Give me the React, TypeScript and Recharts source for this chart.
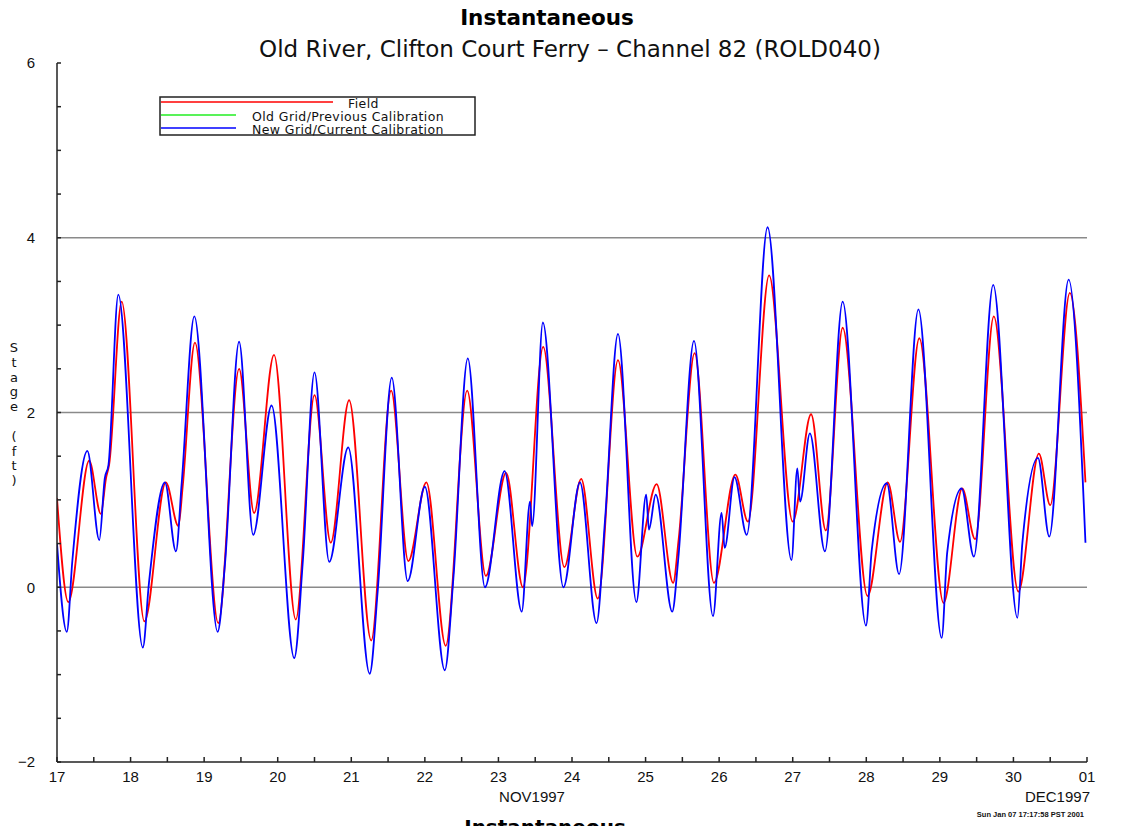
import React from 'react';
import { LineChart, Line, XAxis, YAxis, ReferenceLine, Legend } from 'recharts';

// hours since 17 Nov 1997 00:00
const fieldHours = [0, 3.7, 10.5, 14.3, 16, 17, 21.1, 28.5, 35.5, 39.6, 41, 45, 52.6, 59.4, 64.3, 70.8, 77.9, 84, 89.3, 95.3, 102.5, 109, 114.6, 120.5, 126.8, 133.8, 139.9, 146.5, 152, 158.6, 165.5, 171, 176.4, 183, 189.3, 195.6, 201, 202.8, 208, 214.3, 221.3, 225.4, 232.3, 240, 246, 250.8, 256.3, 264.4, 271, 275, 281.3, 289.2, 295.3, 299.5, 305.6, 313.6, 320.3, 324, 330.4, 335.5];
const fieldStage = [1.02, -0.17, 1.45, 0.84, 1.25, 1.4, 3.27, -0.39, 1.2, 0.7, 1.15, 2.8, -0.41, 2.5, 0.85, 2.66, -0.37, 2.2, 0.51, 2.14, -0.61, 2.25, 0.3, 1.2, -0.67, 2.25, 0.13, 1.31, 0.0, 2.75, 0.23, 1.24, -0.13, 2.6, 0.35, 1.18, 0.05, 0.55, 2.68, 0.05, 1.29, 0.75, 3.57, 0.75, 1.98, 0.65, 2.97, -0.1, 1.2, 0.52, 2.85, -0.18, 1.13, 0.55, 3.1, -0.05, 1.53, 0.94, 3.37, 1.2];

const newGridHours = [0, 3.2, 5.0, 9.9, 13.8, 15.6, 16.8, 20, 28, 30, 35.2, 38.8, 40.7, 44.8, 52.4, 54.8, 59.4, 64, 70, 77.4, 80.2, 84, 88.8, 95, 102, 104.6, 109.2, 114.4, 120, 126.5, 129.3, 134, 139.6, 146, 151.6, 154.3, 155, 158.5, 165.2, 170.6, 176, 178.8, 183, 189, 192.2, 193.1, 195.3, 200.7, 202.6, 207.8, 214, 216.8, 217.8, 221, 225, 231.8, 239.6, 241.5, 242.4, 245.6, 250.5, 256.3, 263.9, 265.8, 270.7, 274.7, 281, 288.6, 290.4, 295.1, 299.1, 305.4, 313.3, 314.9, 320, 323.7, 330, 335.5];
const newGridStage = [0.5, -0.51, 0.3, 1.56, 0.54, 1.25, 1.4, 3.35, -0.69, 0.05, 1.2, 0.41, 1.2, 3.1, -0.51, 0.27, 2.81, 0.6, 2.08, -0.81, 0.3, 2.46, 0.29, 1.6, -0.99, -0.05, 2.4, 0.07, 1.15, -0.95, 0.1, 2.62, 0.0, 1.33, -0.28, 0.98, 0.7, 3.03, 0.0, 1.2, -0.41, 0.78, 2.9, -0.17, 1.06, 0.66, 1.06, -0.28, 0.3, 2.82, -0.33, 0.85, 0.45, 1.26, 0.6, 4.12, 0.31, 1.36, 0.98, 1.76, 0.41, 3.27, -0.44, 0.43, 1.19, 0.15, 3.18, -0.58, 0.4, 1.13, 0.35, 3.46, -0.35, 0.5, 1.48, 0.58, 3.52, 0.51];

const dayLabels = ['17', '18', '19', '20', '21', '22', '23', '24', '25', '26', '27', '28', '29', '30', '01'];
const xTicks = [0, 12, 24, 36, 48, 60, 72, 84, 96, 108, 120, 132, 144, 156, 168, 180, 192, 204, 216, 228, 240, 252, 264, 276, 288, 300, 312, 324, 336];
const yTicks = [-2, -1.5, -1, -0.5, 0, 0.5, 1, 1.5, 2, 2.5, 3, 3.5, 4, 4.5, 5, 5.5, 6];
const yLabelValues = [-2, 0, 2, 4, 6];
const gridValues = [0, 2, 4];

const seriesNames = ['Field', 'Old Grid/Previous Calibration', 'New Grid/Current Calibration'];
const seriesColors = ['#ff0000', '#22ee22', '#0000ff'];

const fieldData = fieldHours.map((t, i) => ({ t, v: fieldStage[i] }));
const newGridData = newGridHours.map((t, i) => ({ t, v: newGridStage[i] }));

const FONT = '"Liberation Sans", Arial, sans-serif';
const WIDE = '"DejaVu Sans", Verdana, sans-serif';

const LegendBox = () => (
  <svg width={318} height={41} style={{ display: 'block', overflow: 'visible' }}>
    <rect x={1} y={1} width={315} height={38} fill="#fff" stroke="#222" strokeWidth={1.5} />
    <line x1={2} y1={6} x2={174} y2={6} stroke={seriesColors[0]} strokeWidth={1.5} />
    <line x1={2} y1={19} x2={77} y2={19} stroke={seriesColors[1]} strokeWidth={1.5} />
    <line x1={2} y1={32} x2={77} y2={32} stroke={seriesColors[2]} strokeWidth={1.5} />
    <text x={189} y={12} fontSize={12.5} letterSpacing={0.4} fontFamily={WIDE} fill="#111">{seriesNames[0]}</text>
    <text x={93} y={25} fontSize={12.5} letterSpacing={0.4} fontFamily={WIDE} fill="#111">{seriesNames[1]}</text>
    <text x={93} y={38} fontSize={12.5} letterSpacing={0.4} fontFamily={WIDE} fill="#111">{seriesNames[2]}</text>
  </svg>
);

const yLabelChars = ['S', 't', 'a', 'g', 'e', '\u00a0', '(', 'f', 't', ')'];

export default function App() {
  return (
    <div style={{ position: 'absolute', left: 0, top: 0, width: 1126, height: 826, overflow: 'hidden', background: '#fff', fontFamily: FONT }}>
      <div style={{ position: 'absolute', left: 0, top: 0 }}>
        <LineChart width={1126} height={826} margin={{ top: 63, right: 39, bottom: 24, left: 0 }}>
          <XAxis
            dataKey="t"
            type="number"
            domain={[0, 336]}
            ticks={xTicks}
            allowDataOverflow
            tickFormatter={(t: number) => (t % 24 === 0 ? dayLabels[t / 24] : '')}
            height={40}
            tickSize={-5}
            tickMargin={14}
            interval={0}
            stroke="#222"
            strokeWidth={1.5}
            tick={{ fill: '#111', fontSize: 15, fontFamily: FONT }}
          />
          <XAxis xAxisId="top" orientation="top" type="number" domain={[0, 336]} height={0} tick={false} tickLine={false} stroke="#222" strokeWidth={1.5} />
          <YAxis
            type="number"
            domain={[-2, 6]}
            ticks={yTicks}
            allowDataOverflow
            interval={0}
            width={57}
            tickSize={-4}
            tickMargin={26}
            tickFormatter={(v: number) => (yLabelValues.includes(v) ? (v < 0 ? '\u2212' + Math.abs(v) : String(v)) : '')}
            stroke="#222"
            strokeWidth={1.5}
            tick={{ fill: '#111', fontSize: 15, fontFamily: FONT }}
          />
          <YAxis yAxisId="right" orientation="right" domain={[-2, 6]} width={0} tick={false} tickLine={false} stroke="#222" strokeWidth={1.5} />
          {gridValues.map((g) => (
            <ReferenceLine key={g} y={g} stroke="#8a8a8a" strokeWidth={1.3} ifOverflow="extendDomain" />
          ))}
          <Line data={fieldData} dataKey="v" name={seriesNames[0]} type="monotone" stroke={seriesColors[0]} strokeWidth={1.8} dot={false} isAnimationActive={false} />
          <Line data={newGridData} dataKey="v" name={seriesNames[2]} type="monotone" stroke={seriesColors[2]} strokeWidth={1.8} dot={false} isAnimationActive={false} />
          <Legend
            layout="horizontal"
            verticalAlign="middle"
            align="center"
            content={() => <LegendBox />}
            wrapperStyle={{ position: 'absolute', left: 159, top: 96, width: 318, height: 41 }}
          />
        </LineChart>
      </div>
      <div style={{ position: 'absolute', left: 547, top: 5, transform: 'translateX(-50%)', fontFamily: WIDE, fontSize: 21.5, fontWeight: 'bold', color: '#000', whiteSpace: 'nowrap' }}>Instantaneous</div>
      <div style={{ position: 'absolute', left: 570, top: 36, transform: 'translateX(-50%)', fontFamily: WIDE, fontSize: 23, color: '#111', whiteSpace: 'nowrap' }}>
        Old River, Clifton Court Ferry – Channel 82 (ROLD040)
      </div>
      <div style={{ position: 'absolute', left: 7, top: 341, width: 14, textAlign: 'center', fontFamily: WIDE, fontSize: 13, lineHeight: '14.8px', color: '#111' }}>
        {yLabelChars.map((c, i) => (
          <div key={i}>{c}</div>
        ))}
      </div>
      <div style={{ position: 'absolute', left: 532, top: 788, transform: 'translateX(-50%)', fontSize: 15, color: '#111', whiteSpace: 'nowrap' }}>NOV1997</div>
      <div style={{ position: 'absolute', right: 36, top: 788, fontSize: 15, color: '#111', whiteSpace: 'nowrap' }}>DEC1997</div>
      <div style={{ position: 'absolute', right: 42, top: 810, fontSize: 7.5, fontWeight: 'bold', color: '#111', whiteSpace: 'nowrap' }}>Sun Jan 07 17:17:58 PST 2001</div>
      <div style={{ position: 'absolute', left: 545, top: 815, transform: 'translateX(-50%)', fontFamily: WIDE, fontSize: 20, fontWeight: 'bold', color: '#000', whiteSpace: 'nowrap' }}>Instantaneous</div>
    </div>
  );
}
